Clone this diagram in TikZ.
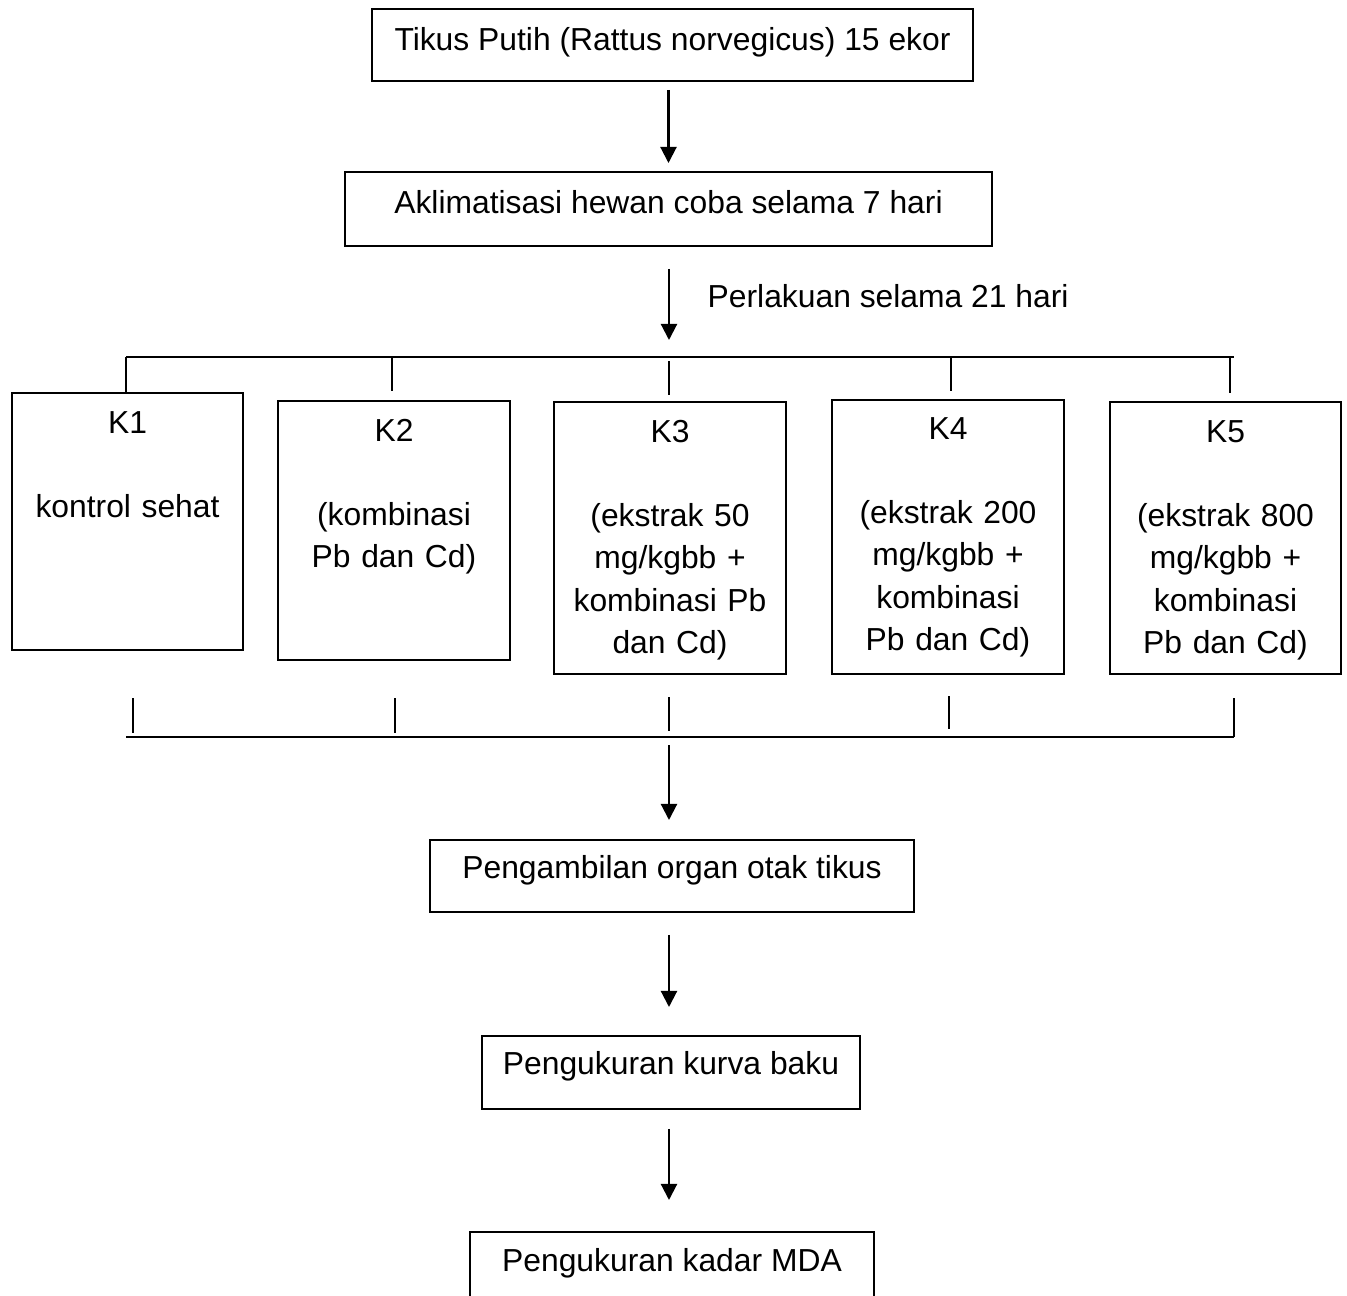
\documentclass[tikz,border=0pt]{standalone}
\usepackage{fontspec}
\setmainfont{Liberation Sans}
\usetikzlibrary{arrows.meta,positioning,calc}

\begin{document}
\begin{tikzpicture}[
x=0.01cm,y=-0.01cm,
font=\fontsize{9.05pt}{11.95pt}\selectfont,
kotak/.style={
  draw,
  line width=0.5pt,
  inner sep=0pt,
  anchor=north
},
grup/.style={
  kotak,
  align=center,
  text width=2.32cm
},
garis/.style={
  line width=0.5pt
},
panah/.style={
  line width=0.6pt,
  -{Triangle[width=0.16cm,length=0.16cm]}
}
]
\useasboundingbox (0,0) rectangle (1347,1296);

% alur atas
\node[kotak,minimum width=6.01cm,text height=0.42cm,text depth=0.30cm] at (672.5,8)
  (tikus) {Tikus Putih (Rattus norvegicus) 15 ekor};
\node[kotak,minimum width=6.47cm,text height=0.42cm,text depth=0.32cm] at (668.5,171)
  (aklim) {Aklimatisasi hewan coba selama 7 hari};

\coordinate (busatas) at (669,357);
\coordinate (busbawah) at (669,737);

\draw[panah,shorten <=0.08cm,shorten >=0.08cm] (tikus.south -| aklim.north) -- (aklim.north);
\draw[panah,shorten <=0.22cm,shorten >=0.17cm] (aklim.south -| busatas) -- (busatas);
\node[anchor=base west,inner sep=0pt] at (707,307)
  (perlakuan) {Perlakuan selama 21 hari};

% kelompok perlakuan
\node[grup,text width=2.31cm,text height=0.41cm,text depth=2.16cm] at (127.5,392)
  (K1) {K1\\[11.95pt]kontrol sehat};
\node[grup,text height=0.41cm,text depth=2.18cm] at (394,400)
  (K2) {K2\\[11.95pt](kombinasi\\Pb dan Cd)};
\node[grup,text height=0.41cm,text depth=2.31cm] at (670,401)
  (K3) {K3\\[11.95pt](ekstrak 50\\mg/kgbb +\\kombinasi Pb\\dan Cd)};
\node[grup,text height=0.40cm,text depth=2.34cm] at (948,399)
  (K4) {K4\\[11.95pt](ekstrak 200\\mg/kgbb +\\kombinasi\\Pb dan Cd)};
\node[grup,text width=2.31cm,text height=0.41cm,text depth=2.31cm] at (1225.5,401)
  (K5) {K5\\[11.95pt](ekstrak 800\\mg/kgbb +\\kombinasi\\Pb dan Cd)};

\draw[garis] (126,357) -- (1234,357);
\foreach \x/\k/\a/\b in {126/1/0/0, 392/2/0/0.09, 669/3/0.04/0.06, 951/4/0/0.08, 1230/5/0/0.08}
  \draw[garis,shorten <=\a cm,shorten >=\b cm] (\x,357) -- (\x,357 |- K\k.north);

\foreach \x/\a/\b in {133/698/733, 395/698/733, 669/697/731, 949/696/729, 1234/698/737}
  \draw[garis] (\x,\a) -- (\x,\b);
\draw[garis] (126,737) -- (1234,737);

% alur bawah
\node[kotak,minimum width=4.84cm,text height=0.39cm,text depth=0.33cm] at (672,839)
  (ambil) {Pengambilan organ otak tikus};
\node[kotak,minimum width=3.78cm,text height=0.39cm,text depth=0.34cm] at (671,1035)
  (kurva) {Pengukuran kurva baku};
\node[kotak,minimum width=4.04cm,text height=0.40cm,text depth=0.33cm] at (672,1231)
  (mda) {Pengukuran kadar MDA};

\draw[panah,shorten <=0.08cm,shorten >=0.19cm] (busbawah) -- (busbawah |- ambil.north);
\draw[panah,shorten <=0.22cm,shorten >=0.28cm] (ambil.south -| busbawah) -- (kurva.north -| busbawah);
\draw[panah,shorten <=0.19cm,shorten >=0.31cm] (kurva.south -| busbawah) -- (mda.north -| busbawah);
\end{tikzpicture}
\end{document}
